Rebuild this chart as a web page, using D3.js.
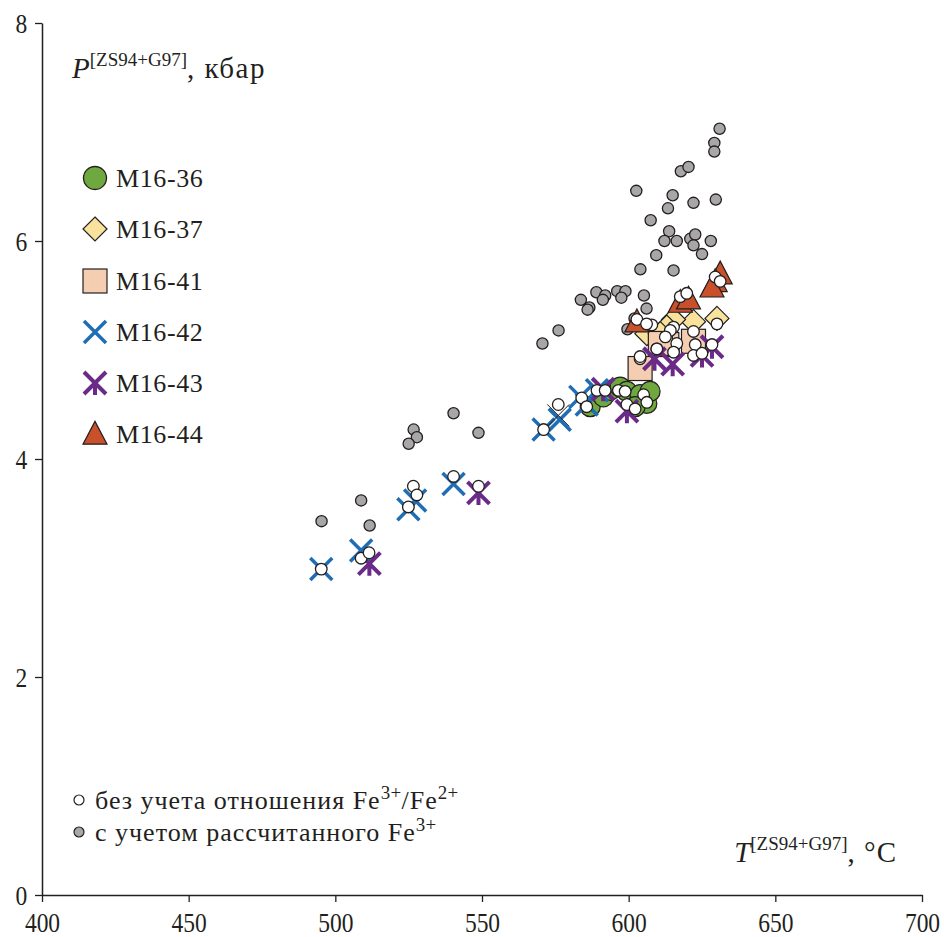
<!DOCTYPE html>
<html><head><meta charset="utf-8">
<script src="https://cdn.jsdelivr.net/npm/d3@7"></script>
<style>body{margin:0;background:#fff}svg{display:block}svg text{font-family:"Liberation Serif","Tinos","Times New Roman","Nimbus Roman","DejaVu Serif",serif !important;fill:#231f20}</style>
</head><body><div id="c"></div>
<script>
const xTicks=[400,450,500,550,600,650,700];
const yTicks=[0,2,4,6,8];
const grayPts=[[631,7.03],[629.2,6.90],[629.2,6.82],[617.8,6.64],[620.4,6.68],[602.6,6.46],[615.0,6.42],[622.1,6.35],[629.7,6.38],[613.4,6.30],[607.5,6.19],[613.8,6.09],[612.2,6.00],[616.4,6.00],[621.0,6.02],[622.7,6.06],[622.1,5.96],[628.0,6.00],[625.0,5.88],[609.4,5.87],[604.0,5.74],[615.3,5.73],[583.7,5.46],[586.6,5.39],[589.0,5.53],[592.0,5.50],[591.2,5.46],[596.1,5.54],[598.9,5.54],[597.5,5.48],[605.2,5.50],[606.1,5.38],[586.0,5.37],[599.6,5.19],[602.0,5.29],[576.1,5.18],[570.6,5.06],[540.3,4.42],[526.7,4.27],[527.8,4.20],[525.0,4.14],[548.8,4.24],[508.8,3.62],[495.3,3.43],[511.7,3.39]];
const m1636=[[586.9,4.48],[591.4,4.57],[593.7,4.63],[597.1,4.66],[599.4,4.62],[603.9,4.59],[606.2,4.51],[602.2,4.48],[607.3,4.62]];
const m1637=[[630.1,5.29],[622.1,5.26],[615.3,5.28],[613.0,5.21],[606.2,5.15],[610.8,5.15]];
const m1641=[[603.9,4.83],[613,5.05],[622.1,5.08],[610.8,5.06]];
const m1642=[[495.2,2.99],[508.8,3.16],[524.9,3.54],[527.2,3.62],[540.3,3.77],[571.0,4.27],[576.5,4.36],[583.5,4.57],[585.7,4.50],[589.2,4.63]];
const m1643=[[511.6,3.04],[548.8,3.69],[591.3,4.64],[599.4,4.44],[608.8,4.92],[615,4.87],[625,4.95],[628.4,5.03]];
const m1644=[[631.2,5.70],[629.5,5.63],[628.4,5.58],[617.6,5.44],[620.4,5.47],[602.8,5.26]];
const otherX=[[576,4.40]];
const whitePts=[[495.2,2.99],[508.8,3.09],[511.5,3.14],[526.6,3.75],[527.8,3.67],[524.9,3.56],[540.3,3.84],[548.8,3.75],[571,4.27],[576,4.50],[584,4.56],[585.7,4.48],[589.2,4.63],[592,4.63],[596.5,4.63],[598.8,4.62],[599.4,4.50],[602.2,4.46],[605.1,4.59],[606.2,4.52],[603.9,4.92],[609.6,5.01],[629.5,5.67],[631.2,5.63],[617.6,5.49],[619.8,5.52],[602.8,5.28],[630.1,5.24],[607.9,5.23],[615.3,5.21],[614.2,5.18],[622.1,5.17],[612.5,5.12],[616.4,5.06],[622.7,5.05],[622.1,4.95],[625.0,4.97],[628.4,5.05],[615.3,4.98],[609.6,5.01],[603.9,4.94],[606.1,5.24]];
const legendNames=["M16-36","M16-37","M16-41","M16-42","M16-43","M16-44"];

const W=944,H=937;
const svg=d3.select("#c").append("svg").attr("width",W).attr("height",H);
const x=d3.scaleLinear().domain([400,700]).range([42,922]);
const y=d3.scaleLinear().domain([0,8]).range([895,23]);
const ax="#231f20";

const xa=svg.append("g").attr("transform","translate(0,895)").call(d3.axisBottom(x).tickValues(xTicks).tickSize(7).tickSizeOuter(0).tickPadding(7));
const ya=svg.append("g").attr("transform","translate(42,0)").call(d3.axisLeft(y).tickValues(yTicks).tickSize(7).tickSizeOuter(0).tickPadding(10));
[xa,ya].forEach(g=>{g.attr("font-family",null);g.select(".domain").attr("stroke",ax).attr("stroke-width",1.5);g.selectAll(".tick line").attr("stroke",ax).attr("stroke-width",1.3);
 g.selectAll(".tick text").style("font-size","27px").attr("fill",ax);});
xa.selectAll(".tick text").attr("dy","0.85em").attr("transform","scale(0.87,1)");
ya.selectAll(".tick text").attr("dy","0.35em").attr("transform","scale(0.87,1)");

function circle(g,cx,cy,r,fill,sw){g.append("circle").attr("cx",cx).attr("cy",cy).attr("r",r).attr("fill",fill).attr("stroke",ax).attr("stroke-width",sw);}
function diamond(g,cx,cy,s){g.append("path").attr("d",`M${cx},${cy-s}L${cx+s},${cy}L${cx},${cy+s}L${cx-s},${cy}Z`).attr("fill","#f9e39c").attr("stroke",ax).attr("stroke-width",1.2);}
function square(g,cx,cy,s){g.append("rect").attr("x",cx-s).attr("y",cy-s).attr("width",2*s).attr("height",2*s).attr("fill","#f5cdb0").attr("stroke",ax).attr("stroke-width",1.2);}
function tri(g,cx,cy,s){g.append("path").attr("d",`M${cx},${cy-s*1.05}L${cx+s},${cy+s*0.85}L${cx-s},${cy+s*0.85}Z`).attr("fill","#c8502a").attr("stroke",ax).attr("stroke-width",1.2);}
function cross(g,cx,cy,s,col,sw){g.append("path").attr("d",`M${cx-s},${cy-s}L${cx+s},${cy+s}M${cx-s},${cy+s}L${cx+s},${cy-s}`).attr("stroke",col).attr("stroke-width",sw).attr("fill","none");}
function star(g,cx,cy,s,col,sw){g.append("path").attr("d",`M${cx-s},${cy-s}L${cx+s},${cy+s}M${cx-s},${cy+s}L${cx+s},${cy-s}M${cx},${cy-s*0.2}L${cx},${cy+s*1.1}`).attr("stroke",col).attr("stroke-width",sw).attr("fill","none");}

const blue="#1f6db5",purple="#6b2a88",green="#6fa83e";
const pts=svg.append("g");
grayPts.forEach(d=>circle(pts,x(d[0]),y(d[1]),5.6,"#a8a6a6",1.3));
m1636.forEach(d=>circle(pts,x(d[0]),y(d[1]),10,green,1.2));
m1637.forEach(d=>diamond(pts,x(d[0]),y(d[1]),12));
m1641.forEach(d=>square(pts,x(d[0]),y(d[1]),12));
m1644.forEach(d=>tri(pts,x(d[0]),y(d[1]),12));
m1642.forEach(d=>cross(pts,x(d[0]),y(d[1]),11,blue,3.5));
m1643.forEach(d=>star(pts,x(d[0]),y(d[1]),11,purple,4));
otherX.forEach(d=>cross(pts,x(d[0]),y(d[1]),11,ax,1));
whitePts.forEach(d=>circle(pts,x(d[0]),y(d[1]),5.8,"#fff",1.3));

const lg=svg.append("g");
const ly=[178,229,281,332,383,434];
circle(lg,95,ly[0],11.5,green,1.3);
diamond(lg,95,ly[1],12);
square(lg,95,ly[2],12);
cross(lg,95,ly[3],11,blue,3.5);
star(lg,95,ly[4],11,purple,4);
tri(lg,95,ly[5],12);
legendNames.forEach((n,i)=>lg.append("text").attr("x",116).attr("y",ly[i]+9).style("font-size","26px").style("letter-spacing","0.6px").text(n));

circle(svg,79,800,5,"#fff",1.2);
circle(svg,79,832,5,"#a8a6a6",1.2);
const t1=svg.append("text").attr("x",95).attr("y",809).style("font-size","26px").style("letter-spacing","1px");
t1.append("tspan").text("без учета отношения Fe");
t1.append("tspan").attr("dy",-10).style("font-size","19px").style("letter-spacing","0.3px").text("3+");
t1.append("tspan").attr("dy",10).text("/Fe");
t1.append("tspan").attr("dy",-10).style("font-size","19px").style("letter-spacing","0.3px").text("2+");
const t2=svg.append("text").attr("x",95).attr("y",841).style("font-size","26px").style("letter-spacing","1px");
t2.append("tspan").text("с учетом рассчитанного Fe");
t2.append("tspan").attr("dy",-10).style("font-size","19px").style("letter-spacing","0.3px").text("3+");

const pt=svg.append("text").attr("x",72).attr("y",78).style("font-size","29px");
pt.append("tspan").style("font-style","italic").text("P");
pt.append("tspan").attr("dy",-12).style("font-size","19px").text("[ZS94+G97]");
pt.append("tspan").attr("dy",12).style("letter-spacing","1.5px").text(", кбар");
const tt=svg.append("text").attr("x",897).attr("y",862).attr("text-anchor","end").style("font-size","29px");
tt.append("tspan").style("font-style","italic").text("T");
tt.append("tspan").attr("dy",-12).style("font-size","19px").text("[ZS94+G97]");
tt.append("tspan").attr("dy",12).style("letter-spacing","1px").text(", °C");
</script></body></html>
